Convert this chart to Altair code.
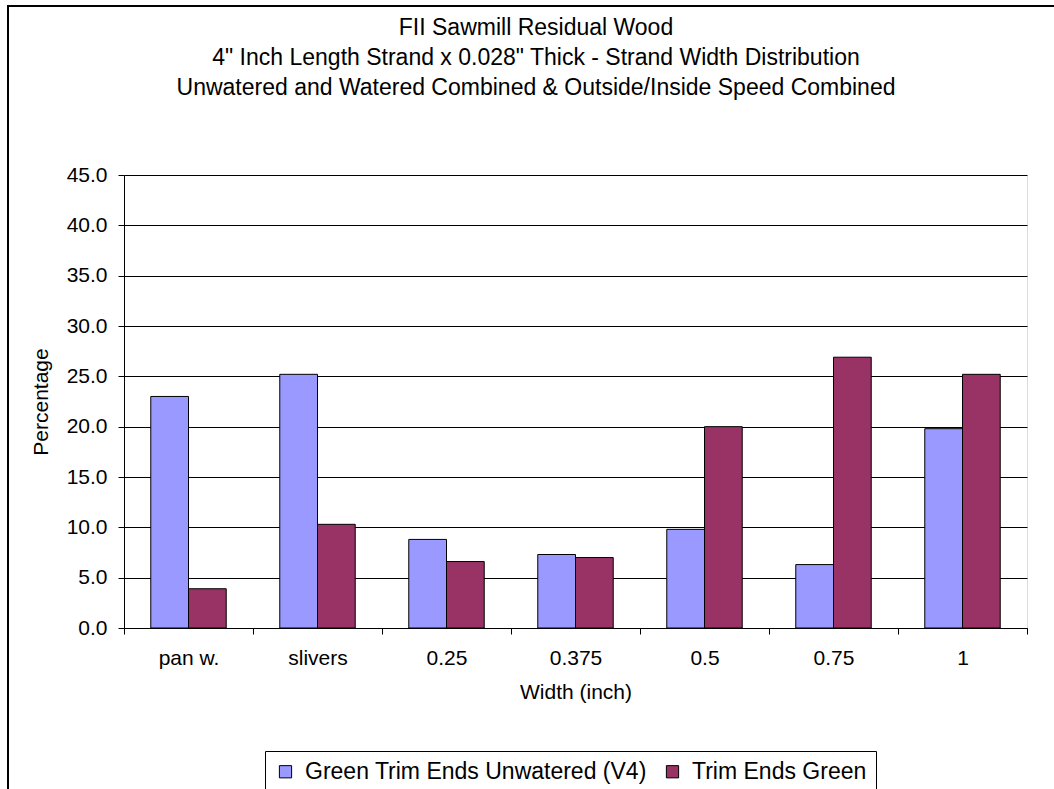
import altair as alt
import pandas as pd

categories = ["pan w.", "slivers", "0.25", "0.375", "0.5", "0.75", "1"]
series_names = ["Green Trim Ends Unwatered (V4)", "Trim Ends Green"]
unwatered = [23.0, 25.2, 8.8, 7.3, 9.8, 6.3, 19.8]
trim_green = [3.9, 10.3, 6.6, 7.0, 20.0, 26.9, 25.2]
series_colors = ["#9999FF", "#993366"]
y_ticks = [0, 5, 10, 15, 20, 25, 30, 35, 40, 45]
title_lines = ["FII Sawmill Residual Wood",
               "4\" Inch Length Strand  x 0.028\" Thick - Strand Width Distribution",
               "Unwatered and Watered Combined & Outside/Inside Speed Combined"]

rows = []
for c, v in zip(categories, unwatered):
    rows.append({"Width": c, "Series": series_names[0], "Value": v})
for c, v in zip(categories, trim_green):
    rows.append({"Width": c, "Series": series_names[1], "Value": v})
df = pd.DataFrame(rows)

FONT = "Liberation Sans"
W, H = 903, 453
FS = 21

bars = alt.Chart(df).mark_bar(stroke="black", strokeWidth=1).encode(
    x=alt.X("Width:N", sort=categories,
            scale=alt.Scale(paddingInner=0, paddingOuter=0),
            axis=alt.Axis(title="Width (inch)", labelAngle=0, tickBand="extent",
                          domainColor="black", tickColor="black", tickSize=6,
                          labelFont=FONT, labelFontSize=FS, labelColor="black",
                          labelPadding=13, titleFont=FONT, titleFontSize=FS,
                          titleFontWeight="normal", titleColor="black",
                          titleBaseline="alphabetic", titleY=70, grid=False)),
    xOffset=alt.XOffset("Series:N", sort=series_names,
                        scale=alt.Scale(paddingInner=0, paddingOuter=0.71)),
    y=alt.Y("Value:Q", scale=alt.Scale(domain=[0, 45], nice=False),
            axis=alt.Axis(title="Percentage", values=y_ticks, format=".1f",
                          domainColor="black", tickColor="black", tickSize=6,
                          labelFont=FONT, labelFontSize=FS, labelColor="black",
                          labelPadding=11, gridColor="black", gridWidth=1,
                          gridOpacity=1, titleFont=FONT, titleFontSize=FS,
                          titleFontWeight="normal", titleColor="black",
                          titleAngle=-90, titleBaseline="middle",
                          titleX=-83, titleY=H / 2)),
    color=alt.Color("Series:N", sort=series_names,
                    scale=alt.Scale(domain=series_names, range=series_colors),
                    legend=alt.Legend(title=None, orient="none", direction="horizontal",
                                      legendX=141, legendY=576,
                                      strokeColor="black", fillColor="white",
                                      padding=9, symbolType="square", symbolSize=150,
                                      symbolStrokeColor="black", symbolStrokeWidth=1,
                                      labelFont=FONT, labelFontSize=23, labelColor="black",
                                      labelLimit=0, columnPadding=14, labelOffset=8)),
)

frame = alt.Chart(pd.DataFrame({"k": [0]})).mark_rect(
    fill=None, stroke="black", strokeWidth=2
).encode(
    x=alt.value(-116), x2=alt.value(940),
    y=alt.value(-169), y2=alt.value(630),
)

title = alt.Chart(pd.DataFrame({"k": [0]})).mark_text(
    text=title_lines, font=FONT, fontSize=23, color="black",
    align="center", baseline="alphabetic", lineHeight=30
).encode(
    x=alt.value(412), y=alt.value(-140),
)

chart = alt.layer(frame, title, bars).properties(
    width=W, height=H,
    autosize=alt.AutoSizeParams(type="none"),
    padding={"left": 124, "top": 175, "right": 27, "bottom": 161},
).configure_view(
    fill="#C0C0C0", stroke="#808080", strokeWidth=1
).configure(background="white")

chart.save("out.html", embed_options={"renderer": "svg", "actions": False})
